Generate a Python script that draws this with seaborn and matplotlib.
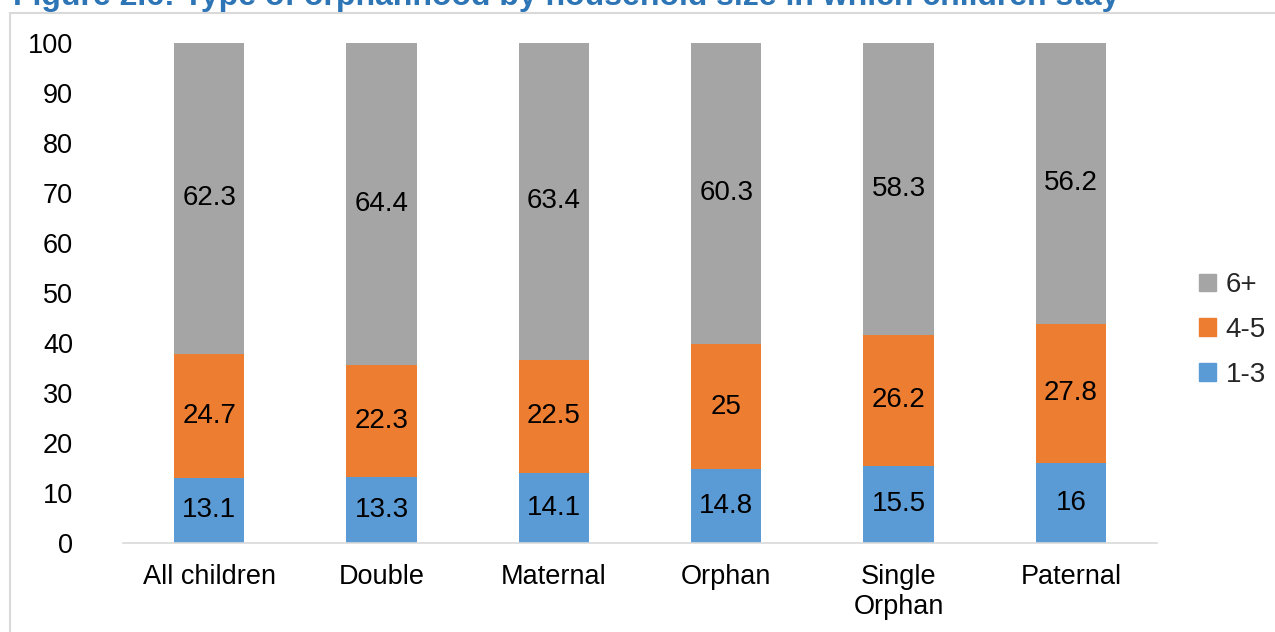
import numpy as np
import pandas as pd
import matplotlib
matplotlib.use("Agg")
import matplotlib.pyplot as plt
import matplotlib.patches as mpatches
import seaborn as sns

categories = ["All children", "Double", "Maternal", "Orphan", "Single\nOrphan", "Paternal"]
size_1_3 = [13.1, 13.3, 14.1, 14.8, 15.5, 16]
size_4_5 = [24.7, 22.3, 22.5, 25, 26.2, 27.8]
size_6p = [62.3, 64.4, 63.4, 60.3, 58.3, 56.2]
title = "Figure 2.6: Type of orphanhood by household size in which children stay"

c_blue = "#5B9BD5"
c_orange = "#ED7D31"
c_gray = "#A5A5A5"

sns.set_theme(style="white")
plt.rcParams["font.family"] = ["Liberation Sans", "DejaVu Sans"]

df = pd.DataFrame({"cat": categories, "a": size_1_3, "b": size_4_5, "c": size_6p})
df["ab"] = df["a"] + df["b"]
df["abc"] = df["ab"] + df["c"]

fig = plt.figure(figsize=(12.75, 6.32), dpi=100)
ax = fig.add_axes([123/1275, 1-543/632, (1157-123)/1275, (543-43)/632])

# stacked bars drawn back to front
for col, colr in [("abc", c_gray), ("ab", c_orange), ("a", c_blue)]:
    sns.barplot(data=df, x="cat", y=col, color=colr, width=0.41, saturation=1,
                linewidth=0, ax=ax)

for i, row in df.iterrows():
    for lo, val in [(0, row["a"]), (row["a"], row["b"]), (row["ab"], row["c"])]:
        ax.text(i, lo + val/2, f"{val:g}", ha="center", va="center", fontsize=20, color="black")

ax.set_ylim(0, 100)
ax.set_xlim(-0.5, 5.5)
ax.set_yticks(range(0, 101, 10))
ax.set_xlabel("")
ax.set_ylabel("")
ax.tick_params(axis="both", labelsize=19.5, colors="black", length=0)
ax.tick_params(axis="y", pad=36)
ax.tick_params(axis="x", pad=15)
for s in ["top", "right", "left"]:
    ax.spines[s].set_visible(False)
ax.spines["bottom"].set_color("#D9D9D9")
ax.spines["bottom"].set_linewidth(1.2)

handles = [mpatches.Patch(color=c_gray, label="6+"),
           mpatches.Patch(color=c_orange, label="4-5"),
           mpatches.Patch(color=c_blue, label="1-3")]
fig.legend(handles=handles, loc="center left", bbox_to_anchor=(1188/1275, 1-330/632),
           frameon=False, fontsize=20, handlelength=0.6, handleheight=0.6,
           handletextpad=0.35, labelspacing=0.68, borderaxespad=0)

# outer chart frame
fig.patches.append(mpatches.Rectangle((10/1275, -0.1), 1.2, 1-13/632+0.1, transform=fig.transFigure,
                                      fill=False, edgecolor="#D9D9D9", linewidth=1.5))

fig.text(13/1275, 1-5/632, title, ha="left", va="baseline", fontsize=23,
         fontweight="bold", color="#2E75B6")

fig.savefig("out.png", dpi=100)
